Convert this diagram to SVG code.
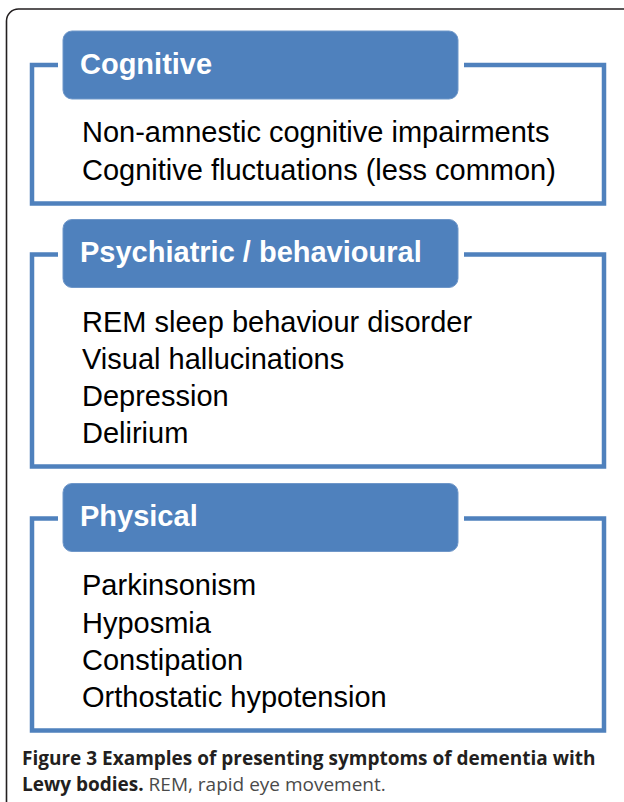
<svg xmlns="http://www.w3.org/2000/svg" width="624" height="802" viewBox="0 0 624 802">
<style>
.frame{fill:none;stroke:#231f20;stroke-width:1.6}
.box{fill:none;stroke:#4f81bd;stroke-width:4.5;stroke-linejoin:miter}
.label{fill:#4f81bd;stroke:#6f97c9;stroke-width:1}
.title{font-family:"Liberation Sans",Arial,sans-serif;font-weight:bold;font-size:29px;fill:#ffffff}
.item{font-family:"Liberation Sans",Arial,sans-serif;font-size:29px;fill:#000000}
.cap{font-family:"Open Sans","DejaVu Sans",sans-serif;font-size:19px;fill:#231f20}
.capb{font-weight:bold}
.capr{fill:#4a4a4a}
</style>
<rect width="624" height="802" fill="#ffffff"/>
<path class="frame" d="M6.5 804 V21 A12 12 0 0 1 18.5 9 H626"/>
<g id="cognitive">
<path class="box" d="M58 65 H32 V203.5 H604 V65 H464"/>
<rect class="label" x="63" y="31" width="395" height="68" rx="9"/>
<text class="title" x="80" y="74">Cognitive</text>
<text class="item" x="82" y="142">Non-amnestic cognitive impairments</text>
<text class="item" x="82" y="180">Cognitive fluctuations (less common)</text>
</g>
<g id="psychiatric">
<path class="box" d="M58 254.5 H32 V466.5 H604 V254.5 H464"/>
<rect class="label" x="63" y="219.5" width="395" height="68" rx="9"/>
<text class="title" x="80" y="262">Psychiatric / behavioural</text>
<text class="item" x="82" y="332">REM sleep behaviour disorder</text>
<text class="item" x="82" y="369">Visual hallucinations</text>
<text class="item" x="82" y="406">Depression</text>
<text class="item" x="82" y="443">Delirium</text>
</g>
<g id="physical">
<path class="box" d="M58 518.5 H32 V730.5 H604 V518.5 H464"/>
<rect class="label" x="63" y="483.5" width="395" height="68" rx="9"/>
<text class="title" x="80" y="526">Physical</text>
<text class="item" x="82" y="595">Parkinsonism</text>
<text class="item" x="82" y="633">Hyposmia</text>
<text class="item" x="82" y="670">Constipation</text>
<text class="item" x="82" y="707">Orthostatic hypotension</text>
</g>
<g id="connectors"></g>
<g id="caption">
<text class="cap capb" x="22" y="765">Figure 3 Examples of presenting symptoms of dementia with</text>
<text class="cap" x="22" y="791"><tspan class="capb">Lewy bodies.</tspan><tspan class="capr"> REM, rapid eye movement.</tspan></text>
</g>
</svg>
